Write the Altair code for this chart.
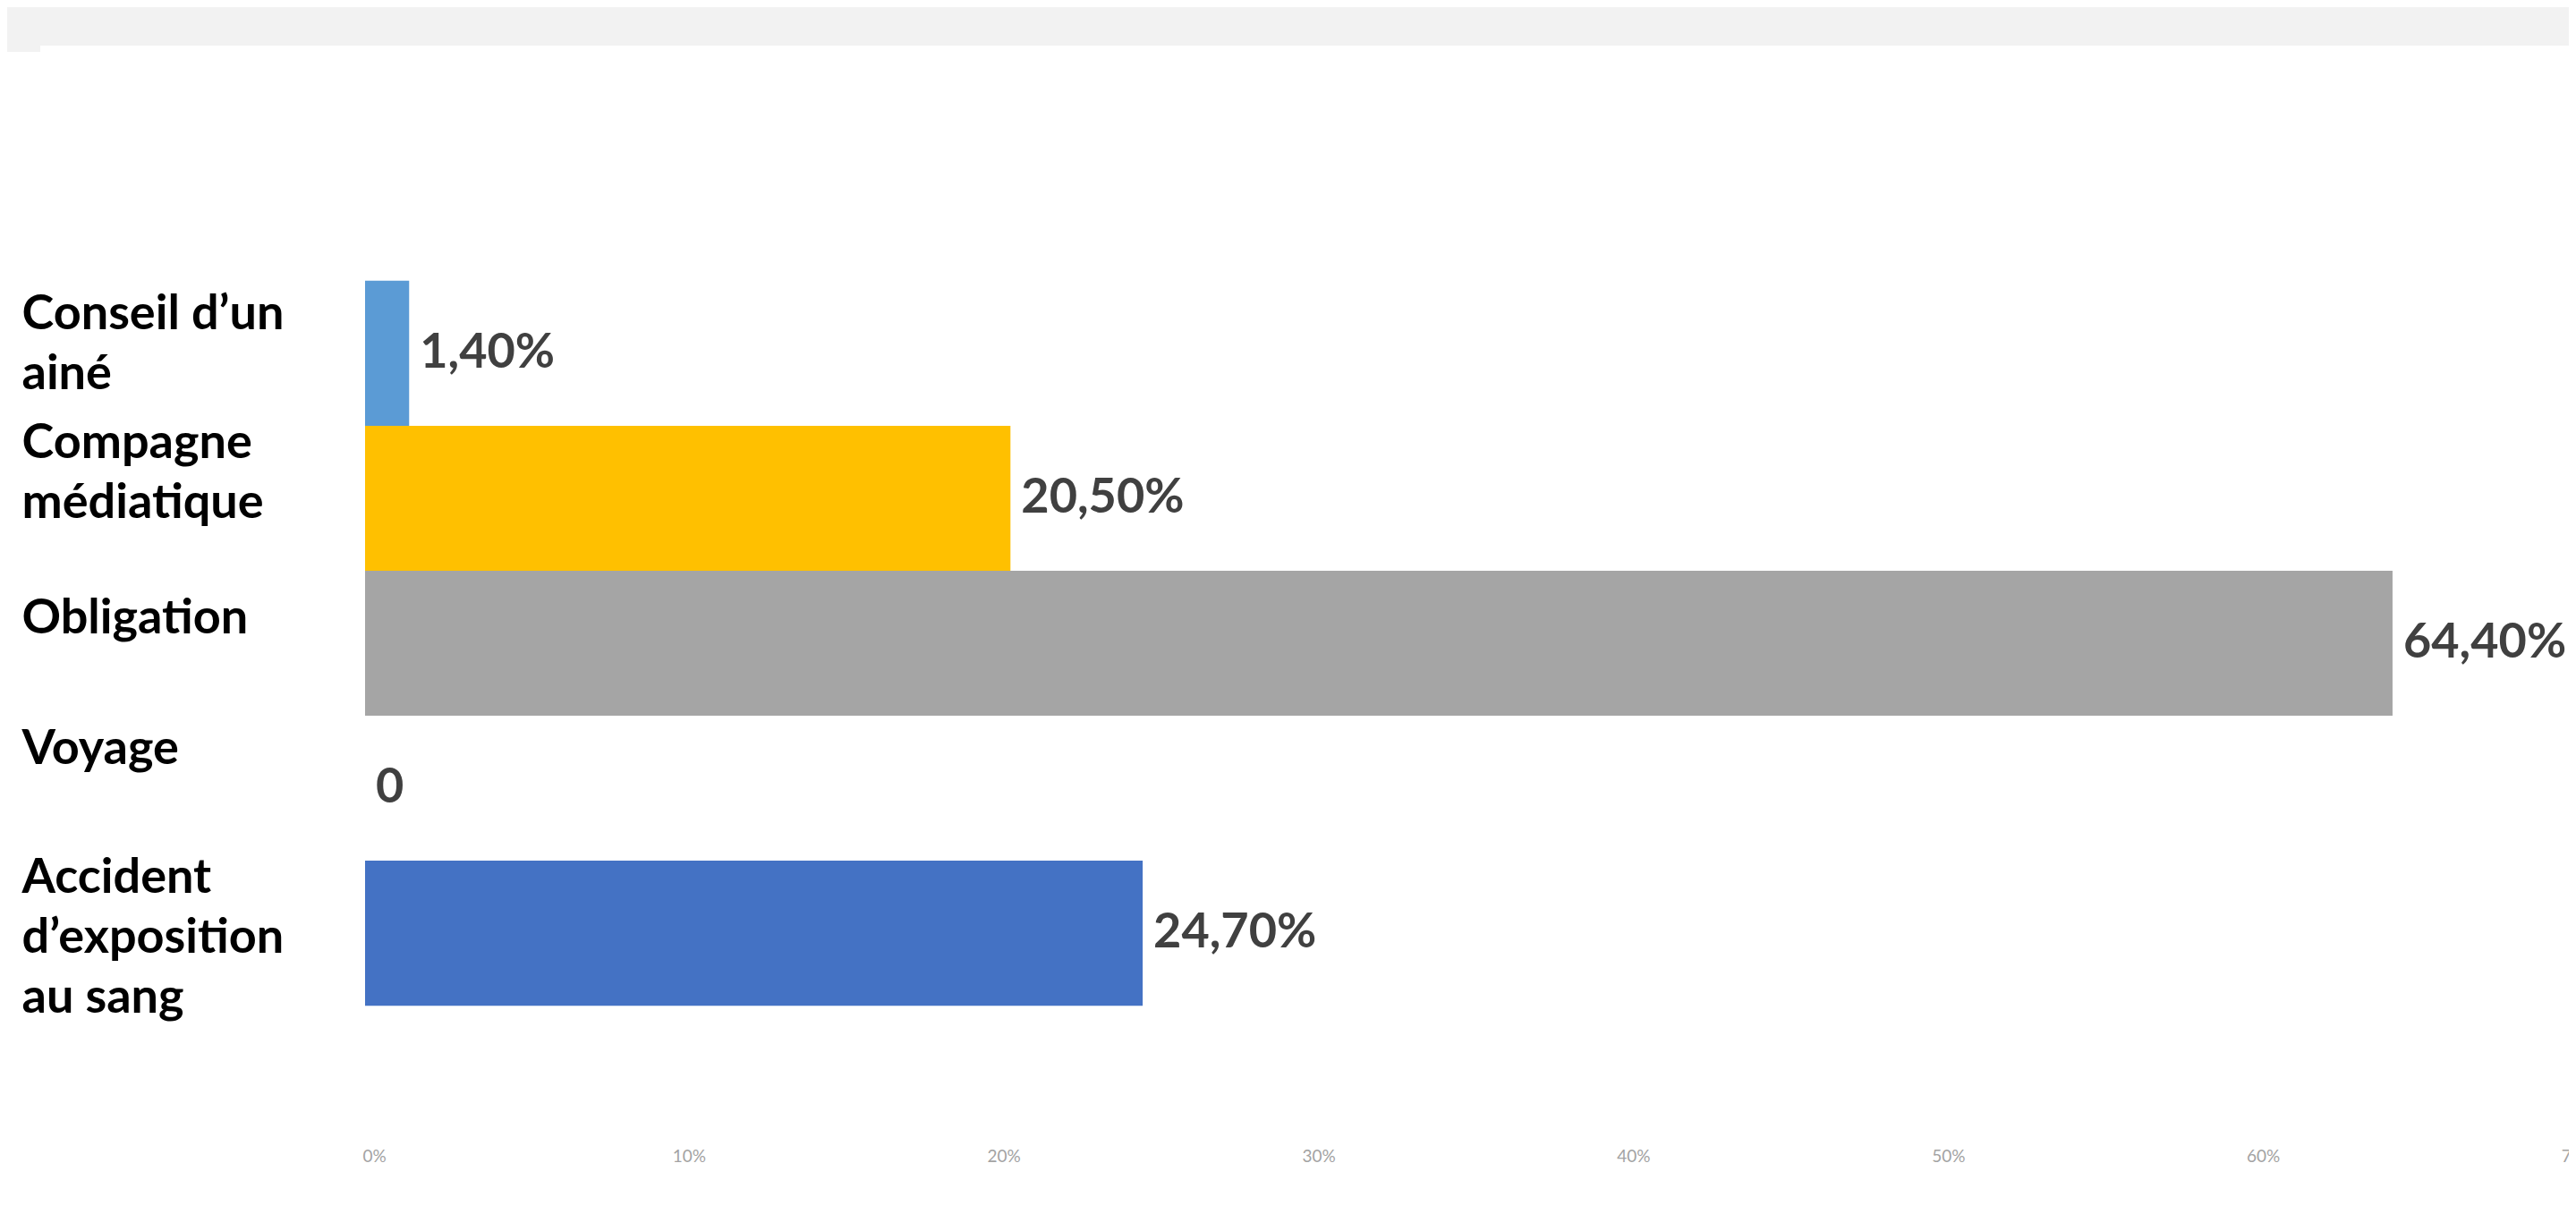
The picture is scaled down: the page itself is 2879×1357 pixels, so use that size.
import altair as alt
import pandas as pd

# ---- data ----
categories = [
    "Conseil d’un\nainé",
    "Compagne\nmédiatique",
    "Obligation",
    "Voyage",
    "Accident\nd’exposition\nau sang",
]
values = [1.4, 20.5, 64.4, 0.0, 24.7]
value_labels = ["1,40%", "20,50%", "64,40%", "0", "24,70%"]
bar_colors = ["#5B9BD5", "#FFC000", "#A5A5A5", "#FFFFFF", "#4472C4"]
x_ticks = [0, 10, 20, 30, 40, 50, 60, 70]

df = pd.DataFrame({"cat": categories, "val": values, "lab": value_labels})

W, H = 2463, 1102

label_baseline = {
    "condition": [
        {"test": "indexof(datum.value, 'Compagne') === 0 || indexof(datum.value, 'Accident') === 0",
         "value": "line-bottom"},
        {"test": "datum.value === 'Obligation'", "value": "middle"},
    ],
    "value": "alphabetic",
}

y_enc = alt.Y(
    "cat:N",
    sort=categories,
    scale=alt.Scale(paddingInner=0, paddingOuter=0.9),
    axis=alt.Axis(
        title=None,
        labelExpr="split(datum.label, '\\n')",
        labelAlign="left",
        labelBaseline=label_baseline,
        labelPadding=384,
        labelOffset=-27,
        labelFont="Lato",
        labelFontWeight="bold",
        labelFontSize=54,
        labelColor="#000000",
        labelLineHeight=67,
        labelLimit=400,
        ticks=False,
        domain=False,
    ),
)

x_enc = alt.X(
    "val:Q",
    scale=alt.Scale(domain=[0, 70], nice=False, zero=True),
    axis=alt.Axis(
        title=None,
        values=x_ticks,
        labelExpr="datum.value + '%'",
        grid=False,
        domain=False,
        ticks=False,
        labelPadding=13,
        labelFont="Lato",
        labelFontSize=19,
        labelColor="#a3a3a3",
        labelFlush=False,
        labelOverlap=False,
        labelOffset=10,
    ),
)

bars = alt.Chart(df).mark_bar().encode(
    x=x_enc,
    y=y_enc,
    color=alt.Color("cat:N", scale=alt.Scale(domain=categories, range=bar_colors), legend=None),
)

texts = alt.Chart(df).mark_text(
    align="left", baseline="middle", dx=12,
    font="Lato", fontWeight="bold", fontSize=54, color="#404040",
).encode(
    x=alt.X("val:Q"),
    y=y_enc,
    text="lab:N",
)

deco = pd.DataFrame({"k": [0]})
band = alt.Chart(deco).mark_rect(color="#f2f2f2").encode(
    x=alt.value(-400), x2=alt.value(W + 20), y=alt.value(-168), y2=alt.value(-117)
)
tab = alt.Chart(deco).mark_rect(color="#f2f2f2").encode(
    x=alt.value(-400), x2=alt.value(-363), y=alt.value(-118), y2=alt.value(-110)
)

chart = alt.layer(band, tab, bars, texts).properties(
    width=W,
    height=H,
    autosize=alt.AutoSizeParams(type="none"),
    padding={"left": 400, "top": 160, "right": 0, "bottom": 60},
    background="#ffffff",
).configure_view(stroke=None)

chart.save("out.html", embed_options={"renderer": "svg", "actions": False})
